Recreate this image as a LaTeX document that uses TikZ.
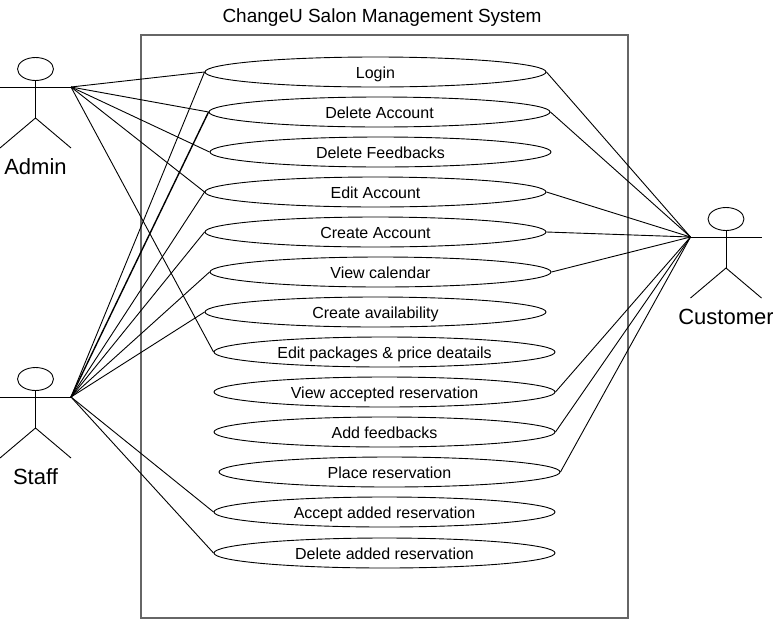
\documentclass[tikz,border=0pt]{standalone}
\usepackage{fontspec}
\setmainfont{Liberation Sans}
\usetikzlibrary{shapes.geometric}
\definecolor{pBorder}{gray}{0.4}
\tikzset{
    usecase/.style={ellipse, draw, line width=0.9pt, inner sep=0pt, minimum width=341pt, minimum height=30pt, fill=white, text height=12pt, text depth=0pt, font=\fontsize{16}{19}\selectfont},
    assoc/.style={line width=0.9pt},
    actorname/.style={inner sep=0pt, font=\fontsize{22}{26}\selectfont},
    actor/.pic={
        \node[draw, ellipse, line width=0.9pt, minimum width=36pt, minimum height=23pt, inner sep=0pt] (head) at (0,-18) {};
        \coordinate (lefthand) at (-35.5,0);
        \coordinate (hand) at (35.5,0);
        \draw[line width=0.9pt] (lefthand)--(hand);
        \draw[line width=0.9pt] (head.south)--(0,31);
        \draw[line width=0.9pt] (-35.5,61)--(0,31)--(35.5,61);
    }
}
\begin{document}
\begin{tikzpicture}[x=1pt,y=-1pt]
\useasboundingbox (0,0) rectangle (773,619);
\node[inner sep=0pt, font=\fontsize{19}{23}\selectfont] (title) at (382,17.5) {ChangeU Salon Management System};
\draw[line width=1.4pt,pBorder] (141,35) rectangle (628,618);
\pic (admin) at (35.5,87) {actor};
\pic (staff) at (35.5,397) {actor};
\pic (customer) at (726,237) {actor};
\node[actorname] (adminname) at (35.5,167) {Admin};
\node[actorname] (staffname) at (35.5,477) {Staff};
\node[actorname] (customername) at (726,317) {Customer};
\node[usecase] (login) at (375.5,72) {Login};
\node[usecase] (delacc) at (379.5,112) {Delete Account};
\node[usecase] (delfb) at (380.5,152) {Delete Feedbacks};
\node[usecase] (editacc) at (375.5,192) {Edit Account};
\node[usecase] (createacc) at (375.5,232) {Create Account};
\node[usecase] (calendar) at (380.5,272) {View calendar};
\node[usecase] (avail) at (375.5,312) {Create availability};
\node[usecase] (packages) at (384.5,352) {Edit packages \& price deatails};
\node[usecase] (viewres) at (384.5,392) {View accepted reservation};
\node[usecase] (addfb) at (384.5,432) {Add feedbacks};
\node[usecase] (placeres) at (389.5,472) {Place reservation};
\node[usecase] (acceptres) at (384.5,512) {Accept added reservation};
\node[usecase] (delres) at (384.5,553) {Delete added reservation};
\draw[assoc] (adminhand)--(login.west);
\draw[assoc] (adminhand)--(delacc.west);
\draw[assoc] (adminhand)--(delfb.west);
\draw[assoc] (adminhand)--(editacc.west);
\draw[assoc] (adminhand)--(packages.west);
\draw[assoc] (staffhand)--(login.west);
\draw[assoc,line width=1.4pt] (staffhand)--(delacc.west);
\draw[assoc] (staffhand)--(editacc.west);
\draw[assoc] (staffhand)--(createacc.west);
\draw[assoc] (staffhand)--(calendar.west);
\draw[assoc] (staffhand)--(avail.west);
\draw[assoc] (staffhand)--(acceptres.west);
\draw[assoc] (staffhand)--(delres.west);
\draw[assoc] (customerlefthand)--(login.east);
\draw[assoc] (customerlefthand)--(delacc.east);
\draw[assoc] (customerlefthand)--(editacc.east);
\draw[assoc] (customerlefthand)--(createacc.east);
\draw[assoc] (customerlefthand)--(calendar.east);
\draw[assoc] (customerlefthand)--(viewres.east);
\draw[assoc] (customerlefthand)--(addfb.east);
\draw[assoc] (customerlefthand)--(placeres.east);
\end{tikzpicture}
\end{document}
